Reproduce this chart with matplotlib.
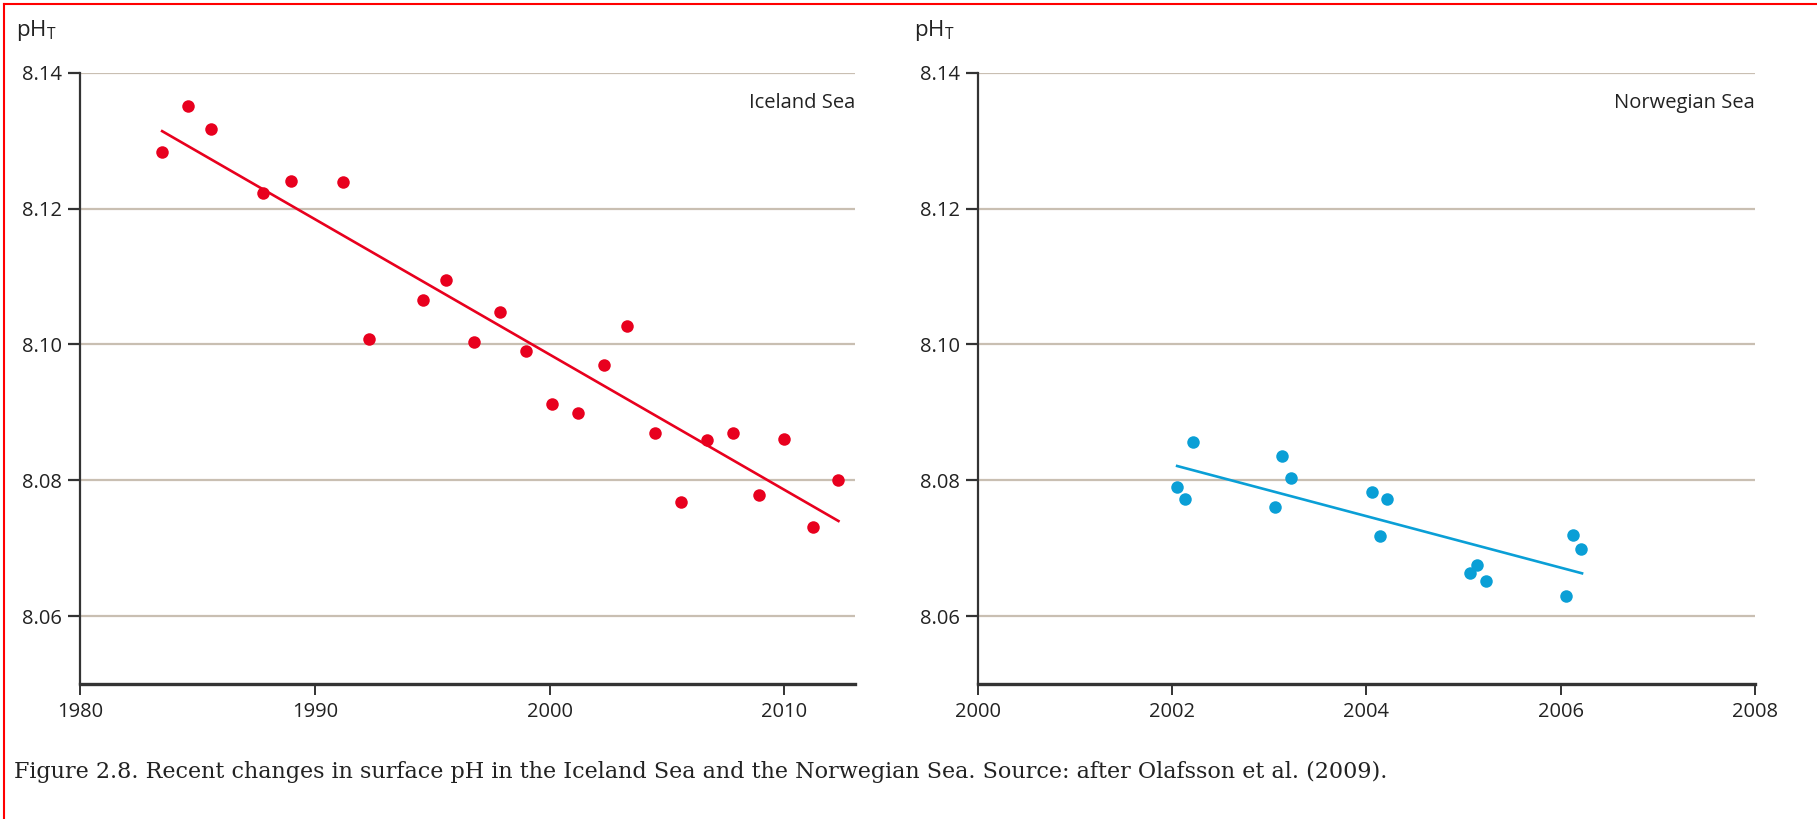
import numpy as np
import matplotlib
matplotlib.use("Agg")
import matplotlib.pyplot as plt
import matplotlib.transforms as mtransforms
from matplotlib.lines import Line2D

# Iceland Sea: yearly surface pH
iceland_years = [1983.5, 1984.6, 1985.6, 1987.8, 1989.0, 1991.2, 1992.3, 1994.6,
                 1995.6, 1996.8, 1997.9, 1999.0, 2000.1, 2001.2, 2002.3, 2003.3,
                 2004.5, 2005.6, 2006.7, 2007.8, 2008.9, 2010.0, 2011.2, 2012.3]
iceland_ph = [8.1283, 8.1351, 8.1317, 8.1223, 8.1240, 8.1239, 8.1008, 8.1065,
              8.1095, 8.1003, 8.1047, 8.0991, 8.0912, 8.0899, 8.0969, 8.1027,
              8.0869, 8.0768, 8.0859, 8.0870, 8.0779, 8.0861, 8.0731, 8.0801]
iceland_trend_years = [1983.5, 2012.3]
iceland_trend_ph = [8.1314, 8.0740]

# Norwegian Sea
norway_years = [2002.05, 2002.13, 2002.21, 2003.06, 2003.13, 2003.22, 2004.06,
                2004.21, 2004.14, 2005.07, 2005.14, 2005.23, 2006.05, 2006.13, 2006.21]
norway_ph = [8.0790, 8.0772, 8.0856, 8.0761, 8.0836, 8.0803, 8.0783,
             8.0773, 8.0718, 8.0663, 8.0675, 8.0652, 8.0629, 8.0719, 8.0699]
norway_trend_years = [2002.05, 2006.22]
norway_trend_ph = [8.0821, 8.0663]

y_ticks = [8.06, 8.08, 8.10, 8.12, 8.14]
iceland_xticks = [1980, 1990, 2000, 2010]
norway_xticks = [2000, 2002, 2004, 2006, 2008]

caption = ("Figure 2.8. Recent changes in surface pH in the Iceland Sea and the "
           "Norwegian Sea. Source: after Olafsson et al. (2009).")

red = "#E8001E"
blue = "#0A9FD6"
grid_col = "#C9BFB2"
axis_col = "#333333"
text_col = "#222222"

plt.rcParams["font.family"] = ["Open Sans", "DejaVu Sans"]
plt.rcParams["mathtext.fontset"] = "custom"

fig = plt.figure(figsize=(18.17, 8.19), dpi=100)


def make_panel(rect, years, ph, trend_x, trend_y, color, xticks, xlim, name):
    ax = fig.add_axes(rect)
    ax.set_xlim(*xlim)
    ax.set_ylim(8.05, 8.14)
    ax.set_yticks(y_ticks)
    ax.set_yticklabels([f"{v:.2f}" for v in y_ticks])
    ax.set_xticks(xticks)
    ax.set_xticklabels([str(v) for v in xticks])
    ax.yaxis.grid(True, color=grid_col, linewidth=1.6)
    ax.set_axisbelow(True)
    for s in ["top", "right"]:
        ax.spines[s].set_visible(False)
    ax.spines["left"].set_color(axis_col)
    ax.spines["left"].set_linewidth(1.6)
    ax.spines["bottom"].set_color(axis_col)
    ax.spines["bottom"].set_linewidth(2.4)
    ax.tick_params(axis="y", length=9, width=1.6, color=axis_col, pad=4,
                   labelsize=14.5, labelcolor=text_col)
    ax.tick_params(axis="x", length=8, width=1.4, color=axis_col, pad=5,
                   labelsize=14.5, labelcolor=text_col)
    ax.plot(trend_x, trend_y, color=color, linewidth=1.9, zorder=3)
    ax.plot(years, ph, "o", color=color, markersize=9, markeredgewidth=0, zorder=4)
    trans = mtransforms.blended_transform_factory(ax.transAxes, ax.transData)
    ax.text(1.0, 8.1356, name, transform=trans, ha="right", va="center",
            fontsize=14.5, color=text_col)
    ax.text(-0.083, 1.048, r"pH$_\mathregular{T}$",
            transform=ax.transAxes, ha="left", va="bottom", fontsize=16, color=text_col)
    return ax


make_panel([0.0440, 0.1648, 0.4265, 0.7464], iceland_years, iceland_ph,
           iceland_trend_years, iceland_trend_ph, red, iceland_xticks, (1980, 2013),
           "Iceland Sea")
make_panel([0.5383, 0.1648, 0.4275, 0.7464], norway_years, norway_ph,
           norway_trend_years, norway_trend_ph, blue, norway_xticks, (2000, 2008),
           "Norwegian Sea")

fig.text(0.0077, 0.050, caption, ha="left", va="baseline", fontsize=16,
         family=["DejaVu Serif"], color=text_col)

# red frame along the top and left edges
fig.add_artist(Line2D([0.0022, 1.0], [0.995, 0.995], transform=fig.transFigure,
                      color="#FF0000", linewidth=1.5))
fig.add_artist(Line2D([0.0022, 0.0022], [0.0, 0.995], transform=fig.transFigure,
                      color="#FF0000", linewidth=1.5))

fig.savefig("out.png", dpi=100)
